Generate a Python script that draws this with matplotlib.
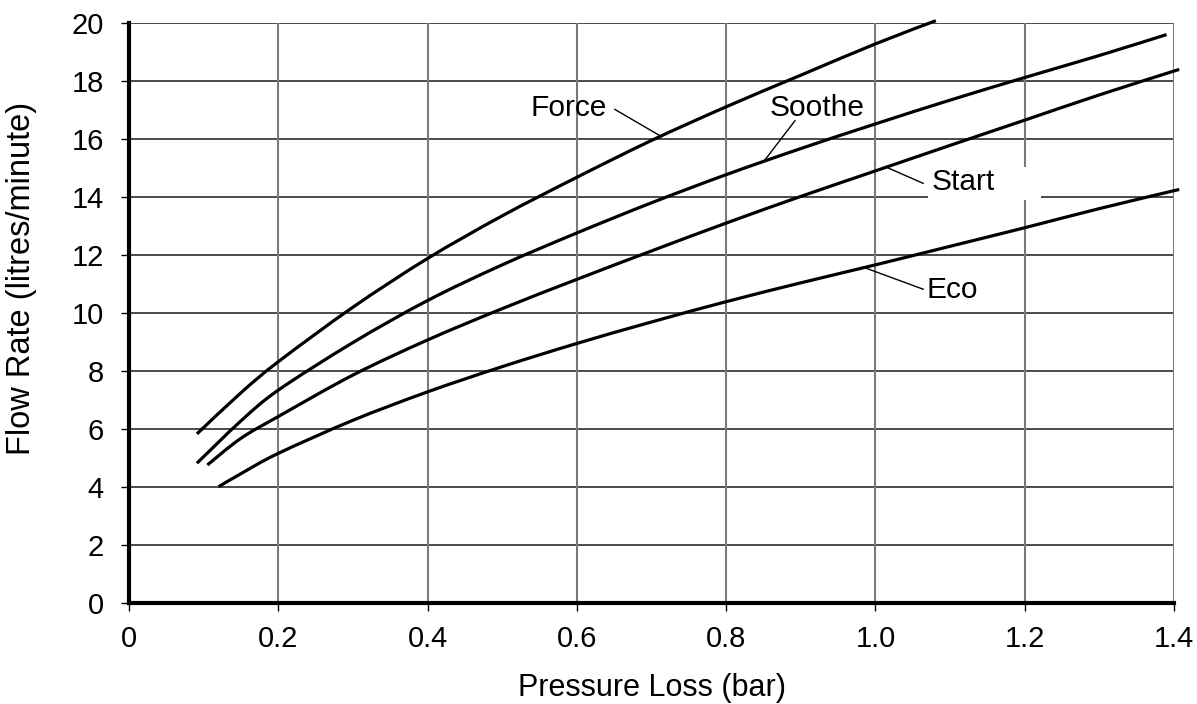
import matplotlib
matplotlib.use("Agg")
import matplotlib.pyplot as plt
import numpy as np
from matplotlib.patches import Rectangle, PathPatch
from matplotlib.path import Path

plt.rcParams['font.family'] = ['Liberation Sans', 'DejaVu Sans']

# ---- data ----
force_x = [0.091, 0.15, 0.2, 0.3, 0.4, 0.5, 0.6, 0.7, 0.8, 0.9, 1.0, 1.081]
force_y = [5.83, 7.25, 8.32, 10.2, 11.88, 13.35, 14.68, 15.95, 17.11, 18.2, 19.28, 20.08]

soothe_x = [0.091, 0.15, 0.2, 0.3, 0.4, 0.5, 0.6, 0.7, 0.8, 0.9, 1.0, 1.1, 1.2, 1.3, 1.39]
soothe_y = [4.82, 6.28, 7.34, 8.98, 10.43, 11.66, 12.76, 13.8, 14.77, 15.67, 16.52, 17.34, 18.12, 18.88, 19.6]

start_x = [0.105, 0.15, 0.2, 0.3, 0.4, 0.5, 0.6, 0.7, 0.8, 0.9, 1.0, 1.1, 1.2, 1.3, 1.407]
start_y = [4.76, 5.68, 6.43, 7.86, 9.07, 10.15, 11.16, 12.14, 13.1, 14.02, 14.9, 15.78, 16.65, 17.52, 18.40]

eco_x = [0.12, 0.15, 0.2, 0.3, 0.4, 0.5, 0.6, 0.7, 0.8, 0.9, 1.0, 1.1, 1.2, 1.3, 1.407]
eco_y = [4.01, 4.46, 5.16, 6.3, 7.28, 8.15, 8.95, 9.69, 10.39, 11.04, 11.66, 12.3, 12.94, 13.6, 14.26]

x_ticks = [0, 0.2, 0.4, 0.6, 0.8, 1.0, 1.2, 1.4]
x_tick_labels = ["0", "0.2", "0.4", "0.6", "0.8", "1.0", "1.2", "1.4"]
y_ticks = [0, 2, 4, 6, 8, 10, 12, 14, 16, 18, 20]

series_names = ["Force", "Soothe", "Start", "Eco"]

FS = 21
LFS = 21.5


def smooth_path(xs, ys):
    """Smoothed line (like a spreadsheet 'smoothed line') through the points."""
    P = np.column_stack([xs, ys]).astype(float)
    n = len(P)
    verts = [P[0]]
    codes = [Path.MOVETO]
    for i in range(n - 1):
        p0 = P[i - 1] if i > 0 else P[i]
        p1 = P[i]
        p2 = P[i + 1]
        p3 = P[i + 2] if i + 2 < n else P[i + 1]
        c1 = p1 + (p2 - p0) / 6.0
        c2 = p2 - (p3 - p1) / 6.0
        verts += [c1, c2, p2]
        codes += [Path.CURVE4, Path.CURVE4, Path.CURVE4]
    return Path(verts, codes)


fig = plt.figure(figsize=(11.97, 7.04), dpi=100)
ax = fig.add_axes([129 / 1197, 1 - 603 / 704, (1174 - 129) / 1197, (603 - 23) / 704])

ax.set_xlim(0, 1.4)
ax.set_ylim(0, 20)

# gridlines
for yv in y_ticks[1:]:
    ax.axhline(yv, color='#1a1a1a', lw=1.1, zorder=1)
for xv in x_ticks[1:]:
    ax.axvline(xv, color='#7a7a7a', lw=1.5, zorder=1)

# white box behind "Start"
ax.add_patch(Rectangle((1.070, 13.9), 0.152, 1.13, facecolor='white',
                       edgecolor='none', zorder=2))

for xs, ys in [(force_x, force_y), (soothe_x, soothe_y), (start_x, start_y), (eco_x, eco_y)]:
    ax.add_patch(PathPatch(smooth_path(xs, ys), facecolor='none', edgecolor='black',
                           lw=2.3, zorder=3, clip_on=False, capstyle='butt'))

# labels with leader lines
ax.plot([0.6509, 0.7136], [17.02, 16.08], color='black', lw=1.0, zorder=3)
ax.text(0.6405, 17.07, series_names[0], ha='right', va='center', fontsize=LFS, zorder=4)

ax.plot([0.8922, 0.852], [16.63, 15.28], color='black', lw=1.0, zorder=3)
ax.text(0.9216, 17.07, series_names[1], ha='center', va='center', fontsize=LFS, zorder=4)

ax.plot([1.0128, 1.064], [15.05, 14.47], color='black', lw=1.0, zorder=3)
ax.text(1.0753, 14.5, series_names[2], ha='left', va='center', fontsize=LFS, zorder=4)

ax.plot([0.9837, 1.064], [11.58, 10.82], color='black', lw=1.0, zorder=3)
ax.text(1.069, 10.79, series_names[3], ha='left', va='center', fontsize=LFS, zorder=4)

# axes styling
for s in ['top', 'right']:
    ax.spines[s].set_visible(False)
ax.spines['left'].set_linewidth(3)
ax.spines['bottom'].set_linewidth(3)
ax.spines['left'].set_zorder(5)
ax.spines['bottom'].set_zorder(5)

ax.set_xticks(x_ticks)
ax.set_xticklabels(x_tick_labels)
ax.set_yticks(y_ticks)
ax.tick_params(axis='both', direction='out', length=6, width=1.0, labelsize=FS)
ax.tick_params(axis='y', pad=12)
ax.tick_params(axis='x', pad=10)

ax.set_xlabel("Pressure Loss (bar)", fontsize=22, labelpad=14)
ax.set_ylabel("Flow Rate (litres/minute)", fontsize=23.5)
ax.yaxis.set_label_coords(-0.088, 0.56)

fig.savefig("out.png", dpi=100)
